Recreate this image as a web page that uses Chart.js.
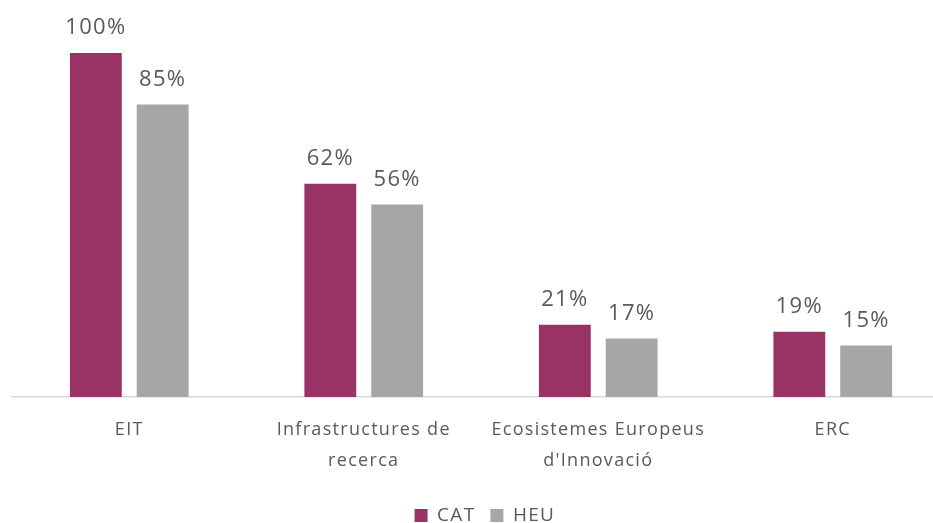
<!DOCTYPE html>
<html>
<head>
<meta charset="utf-8">
<script src="https://cdn.jsdelivr.net/npm/chart.js@4/dist/chart.umd.min.js"></script>
<style>
  html, body { margin: 0; padding: 0; background: #fff; overflow: hidden; }
  .wrap { width: 950px; height: 523px; }
</style>
</head>
<body>
<div class="wrap"><canvas id="chart" width="950" height="523"></canvas></div>
<script>
// categories and values (%)
const categories = [['EIT'], ['Infrastructures de', 'recerca'], ['Ecosistemes Europeus', "d'Innovació"], ['ERC']];
const catValues = [100, 62, 21, 19];
const heuValues = [85, 56, 17, 15];

const textColor = '#595959';
const fontFamily = "'Open Sans', 'Noto Sans', sans-serif";

// slightly wider text spacing, like the original
const spacing = {
  id: 'spacing',
  beforeDraw(chart) { chart.ctx.letterSpacing = '1.3px'; }
};

// draws the % value above every bar
const valueLabels = {
  id: 'valueLabels',
  afterDatasetsDraw(chart) {
    const ctx = chart.ctx;
    ctx.save();
    ctx.fillStyle = textColor;
    ctx.font = '22px ' + fontFamily;
    ctx.textAlign = 'center';
    ctx.textBaseline = 'bottom';
    chart.data.datasets.forEach((ds, i) => {
      chart.getDatasetMeta(i).data.forEach((bar, j) => {
        ctx.fillText(ds.data[j] + '%', bar.x, bar.y - 14);
      });
    });
    ctx.restore();
  }
};

new Chart(document.getElementById('chart'), {
  type: 'bar',
  data: {
    labels: categories,
    datasets: [
      { label: 'CAT', data: catValues, backgroundColor: '#993366', borderWidth: 0 },
      { label: 'HEU', data: heuValues, backgroundColor: '#A6A6A6', borderWidth: 0 }
    ]
  },
  options: {
    responsive: false,
    animation: false,
    events: [],
    layout: { padding: { left: 12, top: 53, right: 0, bottom: -12 } },
    datasets: { bar: { categoryPercentage: 0.57, barPercentage: 0.776 } },
    scales: {
      x: {
        grid: { display: false },
        border: { display: true, color: '#D9D9D9', width: 1.5 },
        ticks: {
          color: textColor,
          font: { family: fontFamily, size: 18, lineHeight: 1.72 },
          padding: 9,
          maxRotation: 0
        },
        afterFit(scale) { scale.height += 6; }
      },
      y: { display: false, min: 0, max: 100 }
    },
    plugins: {
      legend: {
        position: 'bottom',
        labels: {
          color: textColor,
          font: { family: fontFamily, size: 19 },
          boxWidth: 13,
          boxHeight: 13,
          padding: 15
        }
      },
      tooltip: { enabled: false }
    }
  },
  plugins: [spacing, valueLabels]
});
</script>
</body>
</html>
